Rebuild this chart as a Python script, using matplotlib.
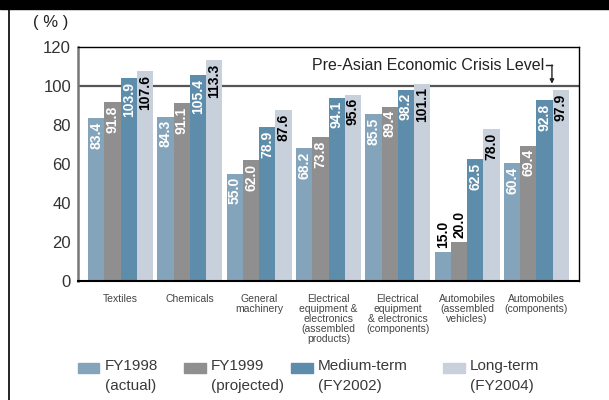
import matplotlib
matplotlib.use("Agg")
import matplotlib.pyplot as plt
from matplotlib.patches import Rectangle
from matplotlib.lines import Line2D
import numpy as np

plt.rcParams['font.family'] = ['Liberation Sans', 'DejaVu Sans']

categories = ["Textiles", "Chemicals", "General\nmachinery",
              "Electrical\nequipment &\nelectronics\n(assembled\nproducts)",
              "Electrical\nequipment\n& electronics\n(components)",
              "Automobiles\n(assembled\nvehicles)",
              "Automobiles\n(components)"]
series_names = ["FY1998\n(actual)", "FY1999\n(projected)", "Medium-term\n(FY2002)", "Long-term\n(FY2004)"]
fy1998 = [83.4, 84.3, 55.0, 68.2, 85.5, 15.0, 60.4]
fy1999 = [91.8, 91.1, 62.0, 73.8, 89.4, 20.0, 69.4]
medium = [103.9, 105.4, 78.9, 94.1, 98.2, 62.5, 92.8]
longterm = [107.6, 113.3, 87.6, 95.6, 101.1, 78.0, 97.9]
yticks = [0, 20, 40, 60, 80, 100, 120]
crisis_level = 100

colors = ["#84a4bb", "#8f8f8f", "#5e8cab", "#c8d0dc"]
label_colors = ["white", "white", "white", "black"]
series = [fy1998, fy1999, medium, longterm]

fig = plt.figure(figsize=(6.09, 4.0), dpi=100)
ax = fig.add_axes([78/609, 1-281/400, (579-78)/609, (281-47)/400])

x = np.arange(len(categories))
bw = 0.2345
for i, (vals, c, lc) in enumerate(zip(series, colors, label_colors)):
    xs = x + (i - 1.5) * bw
    ax.bar(xs, vals, width=bw, color=c, zorder=2)
    for xi, v in zip(xs, vals):
        if v < 30:
            ax.annotate(f"{v:.1f}", (xi, v), xytext=(0, 3), textcoords="offset points",
                        rotation=90, ha="center", va="bottom", fontsize=10,
                        fontweight="bold", color="black", zorder=3)
        else:
            ax.annotate(f"{v:.1f}", (xi, v), xytext=(0, -2.5), textcoords="offset points",
                        rotation=90, ha="center", va="top", fontsize=10,
                        fontweight="bold", color=lc, zorder=3)

ax.axhline(crisis_level, color="#555555", lw=1.6, zorder=1)
ax.set_xlim(-0.613, len(categories) - 1 + 0.613)
ax.set_ylim(0, 120)
ax.set_yticks(yticks)
ax.set_yticklabels([str(t) for t in yticks], fontsize=12, color="#333333")
ax.tick_params(axis="y", length=0, pad=5)
ax.set_xticks(x)
ax.set_xticklabels(categories, fontsize=7.5, color="#444444", linespacing=1.0)
ax.tick_params(axis="x", length=0, pad=9)
for s in ["top", "right"]:
    ax.spines[s].set_color("black")
    ax.spines[s].set_linewidth(1.0)
ax.spines["left"].set_color("#777777")
ax.spines["left"].set_linewidth(1.8)
ax.spines["bottom"].set_color("black")
ax.spines["bottom"].set_linewidth(1.5)

# Pre-Asian crisis annotation
trans = ax.transAxes
ax.text(0.930, 0.923, "Pre-Asian Economic Crisis Level", transform=trans,
        ha="right", va="center", fontsize=11.5, color="#222222")
ax.add_line(Line2D([0.934, 0.946], [0.923, 0.923], transform=trans, color="#222222", lw=1))
ax.annotate("", xy=(0.946, 0.843), xycoords=trans, xytext=(0.946, 0.923),
            textcoords=trans, arrowprops=dict(arrowstyle="-|>", color="#222222", lw=1,
                                              mutation_scale=6, shrinkA=0, shrinkB=0))

# Black top band and left border
fig.add_artist(Rectangle((0, 1-8.5/400), 1, 8.5/400, transform=fig.transFigure,
                         color="black", zorder=10))
fig.add_artist(Line2D([8.5/609, 8.5/609], [0, 1], transform=fig.transFigure,
                      color="black", lw=1.2))

fig.text(33/609, 1-23/400, "( % )", fontsize=12, color="#222222", va="center", ha="left")

# Legend (manual)
leg_x = [77.5, 184, 291, 443]
for name, c, lx in zip(series_names, colors, leg_x):
    fig.add_artist(Rectangle((lx/609, 1-373/400), 21.5/609, 10/400,
                             transform=fig.transFigure, color=c))
    fig.text((lx + 27)/609, 1-359/400, name, fontsize=11, color="#3a3a3a",
             ha="left", va="top", linespacing=1.55)

fig.savefig("out.png", dpi=100)
